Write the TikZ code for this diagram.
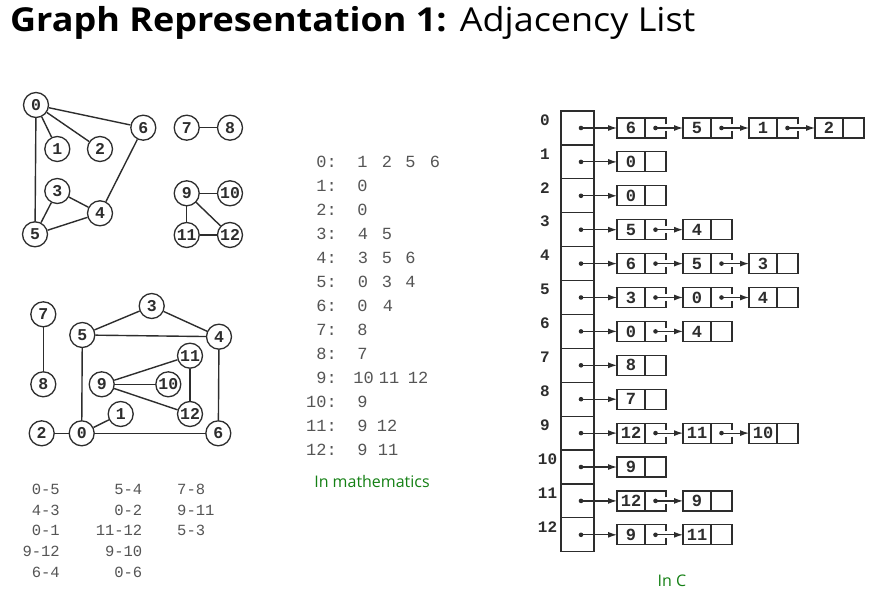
\documentclass[tikz,border=0pt]{standalone}
\usepackage{fontspec}
\setmainfont{Open Sans}
\newfontfamily\titlef[FakeStretch=1.09]{Open Sans}
\newfontfamily\cmono{Liberation Mono}
\usetikzlibrary{arrows.meta}
\definecolor{ink}{RGB}{45,45,45}
\definecolor{txtgray}{RGB}{85,85,85}
\definecolor{mathgreen}{RGB}{20,128,20}
\begin{document}
\begin{tikzpicture}[x=1pt,y=-1pt,
  gnode/.style={circle,draw=ink,line width=1.3pt,minimum size=25pt,inner sep=0pt,
    font=\cmono\bfseries\fontsize{16.5}{16.5}\selectfont,text=ink},
  gedge/.style={draw=ink,line width=1.4pt},
  elist/.style={inner sep=0pt,font=\cmono\fontsize{15.5}{15.5}\selectfont,text=txtgray},
  mlab/.style={anchor=base east,inner sep=0pt,font=\cmono\fontsize{17}{17}\selectfont,text=txtgray},
  mval/.style={anchor=base,inner sep=0pt,font=\cmono\fontsize{17}{17}\selectfont,text=txtgray},
  note/.style={font=\fontsize{16}{16}\selectfont,text=mathgreen,inner sep=0pt},
  acell/.style={rectangle,draw=ink,line width=1.2pt,minimum width=33pt,minimum height=33.9pt,inner sep=0pt,outer sep=0pt},
  vcell/.style={rectangle,draw=ink,line width=1.2pt,minimum width=28pt,minimum height=20pt,inner sep=0pt,outer sep=0pt,
    font=\cmono\bfseries\fontsize{17}{17}\selectfont,text=ink},
  pcell/.style={rectangle,draw=ink,line width=1.2pt,minimum width=21pt,minimum height=20pt,inner sep=0pt,outer sep=0pt},
  pcellopen/.style={rectangle,minimum width=21pt,minimum height=20pt,inner sep=0pt,outer sep=0pt},
  cline/.style={draw=ink,line width=1.2pt},
  dotn/.style={circle,fill=ink,inner sep=0pt,minimum size=4.6pt},
  idx/.style={inner sep=0pt,font=\cmono\bfseries\fontsize{16}{16}\selectfont,text=ink},
  ptr/.style={draw=ink,line width=1.2pt,-{Latex[length=9pt,width=6pt]}}
]
\useasboundingbox[fill=white] (0,0) rectangle (869,596);

% title
\node[anchor=base west,inner sep=0pt,font=\titlef\fontsize{33}{38}\selectfont] (title) at (10,32)
  {\textbf{Graph Representation 1:}\hspace{0.4em}Adjacency List};

% top-left graph
\node[gnode] (t0) at (36,105) {0};
\node[gnode] (t1) at (57.3,149) {1};
\node[gnode] (t2) at (100,149) {2};
\node[gnode] (t6) at (143.3,127.7) {6};
\node[gnode] (t7) at (186.7,127.7) {7};
\node[gnode] (t8) at (230,127.7) {8};
\node[gnode] (t3) at (57.3,191) {3};
\node[gnode] (t4) at (100,213.3) {4};
\node[gnode] (t5) at (35,234.3) {5};
\node[gnode] (t9) at (186.7,193.3) {9};
\node[gnode] (t10) at (230,193.3) {10};
\node[gnode] (t11) at (186.7,235) {11};
\node[gnode] (t12) at (230,235) {12};
\foreach \a/\b in {0/1,0/2,0/6,0/5,6/4,3/4,3/5,5/4,7/8,9/10,9/11,9/12,11/12}
  \draw[gedge] (t\a) -- (t\b);

% bottom-left graph
\node[gnode] (b7) at (43.3,314.3) {7};
\node[gnode] (b8) at (43.3,384.3) {8};
\node[gnode] (b5) at (82.3,335) {5};
\node[gnode] (b3) at (151.7,306) {3};
\node[gnode] (b4) at (219,336.7) {4};
\node[gnode] (b11) at (190,355.7) {11};
\node[gnode] (b9) at (101.7,384.3) {9};
\node[gnode] (b10) at (168.3,384.3) {10};
\node[gnode] (b12) at (190,414) {12};
\node[gnode] (b1) at (120.7,414) {1};
\node[gnode] (b2) at (41.7,433.3) {2};
\node[gnode] (b0) at (81.7,433.3) {0};
\node[gnode] (b6) at (218.3,433.3) {6};
\foreach \a/\b in {7/8,5/3,3/4,5/4,5/0,4/6,0/6,2/0,0/1,9/11,9/10,9/12,11/12}
  \draw[gedge] (b\a) -- (b\b);

% edge list
\foreach \t [count=\k] in {0-5,4-3,0-1,9-12,6-4}
  \node[elist,anchor=base east] (ea\k) at (60,{473.6+20.75*\k}) {\t};
\foreach \t [count=\k] in {5-4,0-2,11-12,9-10,0-6}
  \node[elist,anchor=base east] (eb\k) at (142.5,{473.6+20.75*\k}) {\t};
\foreach \t [count=\k] in {7-8,9-11,5-3}
  \node[elist,anchor=base west] (ec\k) at (177,{473.6+20.75*\k}) {\t};

% adjacency lists (mathematics)
\foreach \i/\toks in {0/{362.5/1,387/2,410.5/5,435/6},1/{362.5/0},2/{362.5/0},
    3/{363/4,387/5},4/{363/3,387/5,410.5/6},5/{363/0,387/3,410.5/4},
    6/{362.5/0,388/4},7/{362.5/8},8/{362.5/7},9/{363.5/10,389/11,418/12},
    10/{362.5/9},11/{362.5/9,387/12},12/{362.5/9,388/11}}{
  \node[mlab] (ml\i) at (337,{167.5+24*\i}) {\i:};
  \foreach \xx/\t [count=\k] in \toks
    \node[mval] (m\i-\k) at (\xx,{167.5+24*\i}) {\t};
}
\node[note] (inmath) at (372,481) {In mathematics};

% adjacency lists (C)
\foreach \r in {0,...,12}{
  \node[acell] (c\r) at (577.5,{128+33.9*\r}) {};
  \ifnum\r<10
    \node[idx] (l\r) at (545,{120+33.9*\r}) {\r};
  \else
    \node[idx] (l\r) at (547.5,{120+33.9*\r}) {\r};
  \fi
}
\foreach \r/\n/\vals in {0/4/{6,5,1,2},1/1/{0},2/1/{0},3/2/{5,4},4/3/{6,5,3},
    5/3/{3,0,4},6/2/{0,4},7/1/{8},8/1/{7},9/3/{12,11,10},10/1/{9},
    11/2/{12,9},12/2/{9,11}}{
  \pgfmathsetmacro\yy{128+33.9*\r}
  \node[dotn] (d\r) at (581,\yy) {};
  \foreach \v [count=\k] in \vals {
    \pgfmathsetmacro\xl{617+66*(\k-1)}
    \node[vcell] (v\r-\k) at (\xl+14,\yy) {\v};
    \ifnum\k<\n
      \node[pcellopen] (p\r-\k) at (\xl+38.5,\yy) {};
      \draw[cline] ([yshift=3.5pt]p\r-\k.east) -- (p\r-\k.north east) -- (p\r-\k.north west);
      \draw[cline] ([yshift=-3.5pt]p\r-\k.east) -- (p\r-\k.south east) -- (p\r-\k.south west);
      \fill[ink] (p\r-\k.center) circle (2.3);
    \else
      \node[pcell] (p\r-\k) at (\xl+38.5,\yy) {};
    \fi
    \ifnum\k=1
      \draw[ptr] (d\r.center) -- (v\r-1.west);
    \else
      \pgfmathtruncatemacro\pk{\k-1}
      \draw[ptr] (p\r-\pk.center) -- (v\r-\k.west);
    \fi
  }
}
\node[note] (inc) at (672,581) {In C};
\end{tikzpicture}
\end{document}
